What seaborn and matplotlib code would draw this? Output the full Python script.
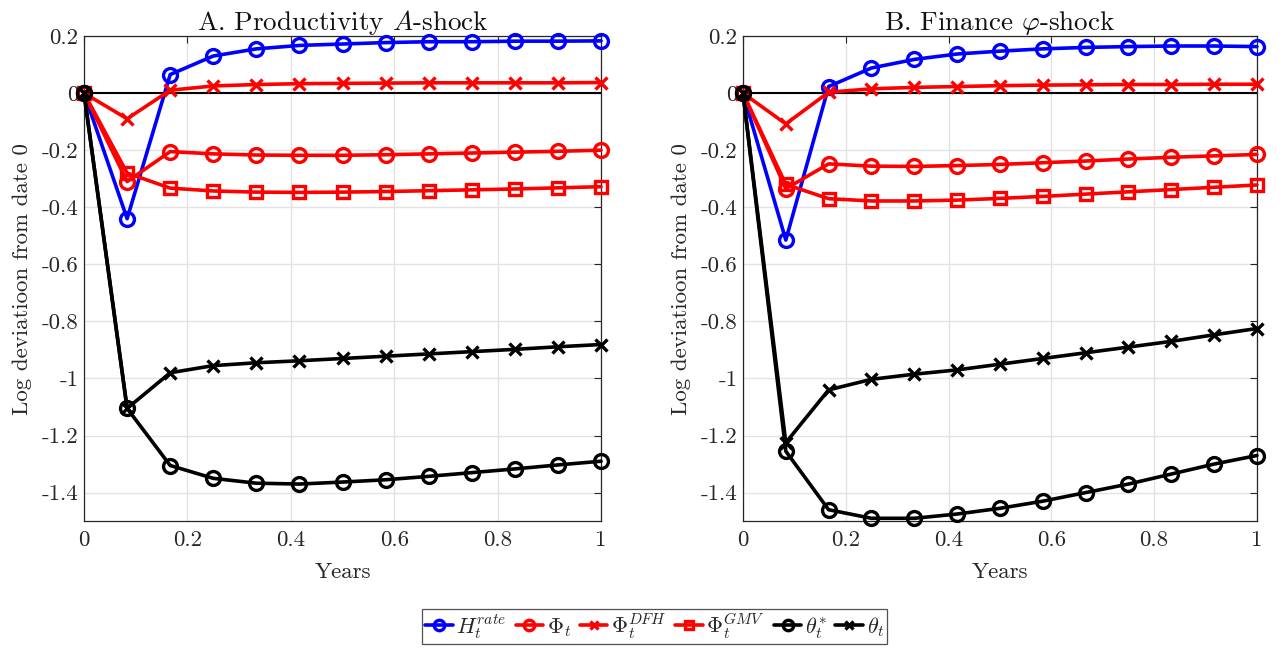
import numpy as np
import pandas as pd
import matplotlib
matplotlib.use("Agg")
import matplotlib.pyplot as plt
import seaborn as sns

sns.set_style("white")
plt.rcParams['font.family'] = ['cmr10', 'DejaVu Serif']
plt.rcParams['mathtext.fontset'] = 'cm'
plt.rcParams['axes.unicode_minus'] = False

# horizon in years (monthly steps)
years = [0, 1/12, 2/12, 3/12, 4/12, 5/12, 6/12, 7/12, 8/12, 9/12, 10/12, 11/12, 1]

# Panel A: productivity shock
a_h_rate = [0, -0.44, 0.065, 0.13, 0.155, 0.167, 0.172, 0.177, 0.180, 0.180, 0.182, 0.182, 0.183]
a_phi = [0, -0.31, -0.205, -0.213, -0.217, -0.218, -0.218, -0.216, -0.213, -0.210, -0.207, -0.204, -0.200]
a_phi_dfh = [0, -0.09, 0.010, 0.025, 0.030, 0.033, 0.034, 0.035, 0.036, 0.036, 0.036, 0.036, 0.037]
a_phi_gmv = [0, -0.28, -0.333, -0.343, -0.347, -0.348, -0.347, -0.345, -0.342, -0.339, -0.336, -0.332, -0.328]
a_theta_star = [0, -1.105, -1.305, -1.350, -1.367, -1.370, -1.363, -1.355, -1.343, -1.330, -1.317, -1.303, -1.290]
a_theta = [0, -1.105, -0.980, -0.955, -0.945, -0.938, -0.930, -0.922, -0.914, -0.906, -0.898, -0.889, -0.881]

# Panel B: finance shock
b_h_rate = [0, -0.515, 0.023, 0.088, 0.118, 0.137, 0.147, 0.155, 0.160, 0.163, 0.165, 0.165, 0.163]
b_phi = [0, -0.335, -0.248, -0.256, -0.257, -0.254, -0.250, -0.244, -0.238, -0.231, -0.225, -0.220, -0.215]
b_phi_dfh = [0, -0.108, 0.003, 0.015, 0.020, 0.023, 0.026, 0.028, 0.029, 0.030, 0.030, 0.031, 0.031]
b_phi_gmv = [0, -0.320, -0.370, -0.378, -0.378, -0.375, -0.369, -0.362, -0.354, -0.346, -0.338, -0.330, -0.322]
b_theta_star = [0, -1.255, -1.460, -1.490, -1.490, -1.475, -1.455, -1.430, -1.400, -1.370, -1.335, -1.300, -1.270]
b_theta = [0, -1.225, -1.040, -1.003, -0.985, -0.970, -0.950, -0.930, -0.910, -0.890, -0.870, -0.847, -0.825]

labels = [r'$H_t^{rate}$', r'$\Phi_t$', r'$\Phi_t^{DFH}$', r'$\Phi_t^{GMV}$', r'$\theta_t^{*}$', r'$\theta_t$']
colors = ['#0000ff', '#ff0000', '#ff0000', '#ff0000', '#000000', '#000000']
markers = ['o', 'o', 'x', 's', 'o', 'x']
msizes = [10, 10, 8, 8, 10, 8]

panels = [
    ('A. Productivity $A$-shock', [a_h_rate, a_phi, a_phi_dfh, a_phi_gmv, a_theta_star, a_theta]),
    (r'B. Finance $\varphi$-shock', [b_h_rate, b_phi, b_phi_dfh, b_phi_gmv, b_theta_star, b_theta]),
]

yticks = [0.2, 0, -0.2, -0.4, -0.6, -0.8, -1, -1.2, -1.4]
ytick_labels = ['0.2', '0', '-0.2', '-0.4', '-0.6', '-0.8', '-1', '-1.2', '-1.4']
xticks = [0, 0.2, 0.4, 0.6, 0.8, 1]
xtick_labels = ['0', '0.2', '0.4', '0.6', '0.8', '1']

fig = plt.figure(figsize=(12.81, 6.49), dpi=100)
ax_a = fig.add_axes([0.0656, 0.197, 0.4036, 0.7475])
ax_b = fig.add_axes([0.580, 0.197, 0.4012, 0.7475])

for ax, (title, series) in zip([ax_a, ax_b], panels):
    ax.axhline(0, color='k', lw=1.5, zorder=1.5)
    for vals, lab, col, mk, ms in zip(series, labels, colors, markers, msizes):
        df = pd.DataFrame({'year': years, 'value': vals})
        sns.lineplot(data=df, x='year', y='value', ax=ax, color=col, lw=2.6,
                     marker=mk, markersize=ms, markerfacecolor='none',
                     markeredgecolor=col, markeredgewidth=2.4, label=lab,
                     legend=False, clip_on=False, zorder=3)
    ax.set_xlim(0, 1)
    ax.set_ylim(-1.5, 0.2)
    ax.set_xticks(xticks)
    ax.set_xticklabels(xtick_labels)
    ax.set_yticks(yticks)
    ax.set_yticklabels(ytick_labels)
    ax.grid(True, color='#e3e3e3', lw=1)
    ax.set_axisbelow(True)
    ax.tick_params(direction='in', length=5, width=0.8, labelsize=16.5,
                   colors='#262626', top=True, right=True, labelcolor='#262626')
    ax.tick_params(axis='x', pad=7)
    ax.tick_params(axis='y', pad=4)
    for s in ax.spines.values():
        s.set_visible(True)
        s.set_color('#262626')
        s.set_linewidth(0.9)
    ax.set_title(title, fontsize=19.5, color='#111111', pad=4)
    ax.set_xlabel('Years', fontsize=16.5, color='#262626', labelpad=9)
    ax.set_ylabel('Log deviatioon from date 0', fontsize=16.5, color='#262626', labelpad=7)

handles, labs = ax_a.get_legend_handles_labels()
leg = fig.legend(handles, labs, loc='center', bbox_to_anchor=(0.511, 0.035), ncol=6,
                 fontsize=16, frameon=True, fancybox=False, edgecolor='#262626',
                 handlelength=1.25, handletextpad=0.15, columnspacing=0.4,
                 markerscale=0.75, borderpad=0.12, borderaxespad=0)
leg.get_frame().set_linewidth(0.9)

plt.savefig('out.png', dpi=100)
plt.close()
